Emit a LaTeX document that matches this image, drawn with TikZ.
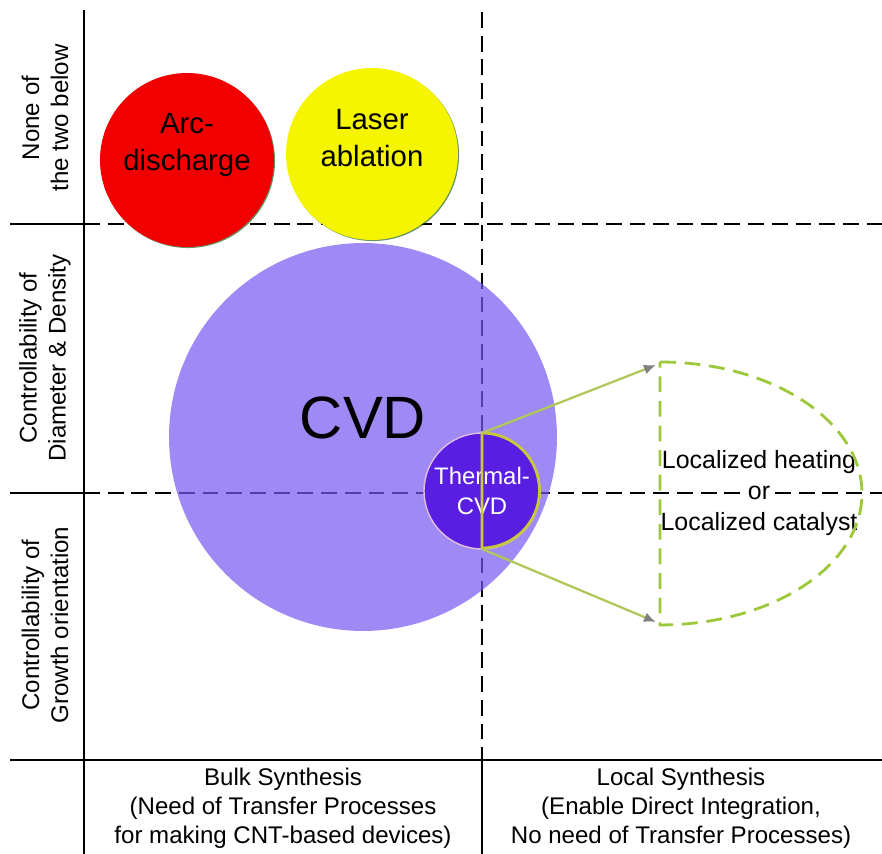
\documentclass[tikz,border=0pt]{standalone}
\usepackage{fontspec}
\setmainfont{Liberation Sans}
\usetikzlibrary{arrows.meta,positioning,shadows}
\definecolor{arcred}{HTML}{F20000}
\definecolor{laseryellow}{HTML}{F5F500}
\definecolor{cvdpurple}{HTML}{7758F1}
\definecolor{thermalviolet}{HTML}{5A1EE2}
\definecolor{rimolive}{HTML}{C8C83C}
\definecolor{zoomlime}{HTML}{B0C85A}
\definecolor{zonegreen}{HTML}{9CC83A}
\tikzset{
  gridline/.style={line width=1.2pt, black},
  griddash/.style={gridline, dash pattern=on 9pt off 4.5pt},
  axislabel/.style={font=\fontsize{13.7}{16.5}\selectfont, align=center},
  rowlabel/.style={axislabel, rotate=90},
  method/.style={circle, inner sep=0pt, outer sep=0pt},
  methodtext/.style={font=\fontsize{16.7}{21}\selectfont, align=center},
  oldmethod/.style={method, drop shadow={shadow xshift=0.6pt, shadow yshift=-0.6pt, opacity=0.6, fill=black!70!green}},
  zoomline/.style={zoomlime, line width=1.3pt, -{Latex[length=2.4mm, width=2mm, color=gray]}},
  localzone/.style={zonegreen, line width=1.6pt, dash pattern=on 9pt off 5pt}
}

\begin{document}
\begin{tikzpicture}[x=0.02cm, y=-0.02cm]
\useasboundingbox[fill=white] (0,0) rectangle (882,854);

% row and column labels
\node[rowlabel] (none) at (45,118) {None of\\the two below};
\node[rowlabel] (diam) at (45,358) {Controllability of\\Diameter \& Density};
\node[rowlabel] (orient) at (45,625) {Controllability of\\Growth orientation};
\node[axislabel] (bulk) at (283,808) {Bulk Synthesis\\(Need of Transfer Processes\\for making CNT-based devices)};
\node[axislabel] (local) at (681,808) {Local Synthesis\\(Enable Direct Integration,\\No need of Transfer Processes)};
\node[font=\fontsize{14.2}{17.6}\selectfont, align=center] (loc) at (759,493) {Localized heating\\or\\Localized catalyst};

% grid
\draw[gridline] (84,10) -- (84,854);
\draw[gridline] (10,760) -- (882,760);
\draw[griddash] (482,12) -- (482,760);
\draw[gridline] (482,760) -- (482,854);
\draw[gridline] (10,224) -- (84,224);
\draw[griddash] (84,224) -- (882,224);
\draw[gridline] (10,493) -- (84,493);
\draw[griddash] (84,493) -- ([xshift=-0.3cm]loc.center);
\draw[griddash] ([xshift=0.32cm]loc.center) -- (882,493);

% methods
\node[oldmethod, fill=arcred, minimum size=3.48cm,
  label={[methodtext, yshift=0.3cm]center:Arc-\\discharge}] (arc) at (187,160) {};
\node[oldmethod, fill=laseryellow, minimum size=3.44cm,
  label={[methodtext, yshift=0.32cm]center:Laser\\ablation}] (laser) at (372,154) {};
\node[method, fill=cvdpurple, fill opacity=0.7, minimum size=7.76cm,
  label={[font=\fontsize{34}{40}\selectfont, yshift=0.38cm]center:CVD}] (cvd) at (363,437) {};
\node[method, fill=thermalviolet, draw=white!75!violet, line width=0.8pt, minimum size=2.32cm,
  text=white, font=\fontsize{13.6}{17}\selectfont, align=center] (thermal) at (482,491) {Thermal-\\CVD};

% zoom onto local synthesis
\coordinate (ztop) at (660,362);
\coordinate (zbot) at (660,625);
\draw[rimolive, line width=1.6pt] (thermal.north) arc[start angle=90, end angle=-90, radius=1.15cm] -- cycle;
\draw[zoomline] (thermal.north) -- ([xshift=-0.08cm, yshift=-0.06cm]ztop);
\draw[zoomline] (thermal.south) -- ([xshift=-0.08cm, yshift=0.06cm]zbot);
\draw[localzone] (ztop) arc[start angle=90, end angle=-90, x radius=4.04cm, y radius=2.63cm] -- cycle;
\end{tikzpicture}
\end{document}
